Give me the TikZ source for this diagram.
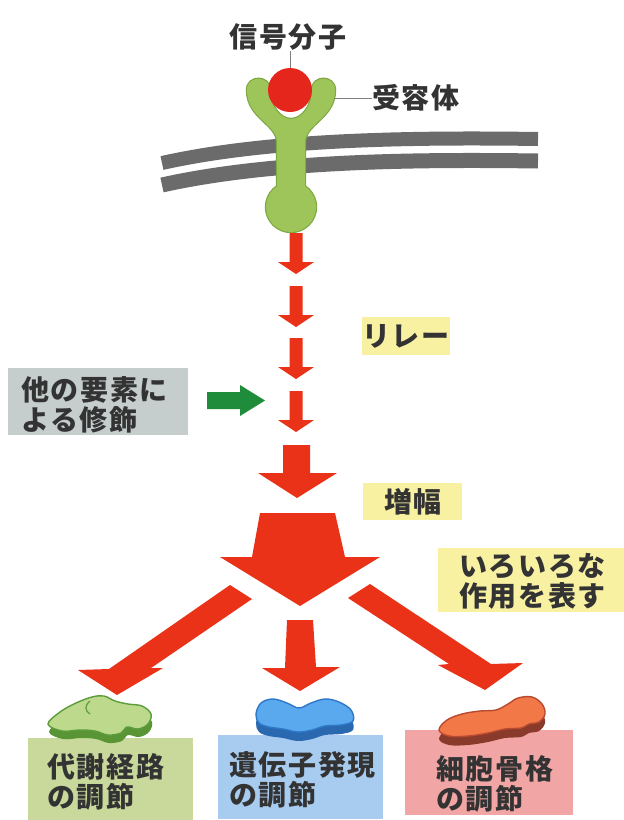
\documentclass[tikz,border=0pt]{standalone}
\usepackage{fontspec}
\newfontfamily\jp{Noto Sans CJK JP}[LetterSpace=6]
\definecolor{sigred}{HTML}{E5261C}
\definecolor{arrowred}{HTML}{EA3219}
\definecolor{recgreen}{HTML}{9DC55A}
\definecolor{recedge}{HTML}{7FA843}
\definecolor{memgray}{HTML}{6B6B6B}
\definecolor{modgreen}{HTML}{1E8C3A}
\definecolor{noteyellow}{HTML}{F8F1A2}
\definecolor{modgray}{HTML}{C6CDCD}
\definecolor{metbox}{HTML}{C9D99C}
\definecolor{genbox}{HTML}{A8CCF0}
\definecolor{cytbox}{HTML}{F2A5A5}
\definecolor{ink}{HTML}{333333}
\definecolor{leafgreen}{HTML}{BCD98C}
\definecolor{leafedge}{HTML}{5C9C3C}
\definecolor{leafside}{HTML}{5A9535}
\definecolor{dnablue}{HTML}{5AA8EE}
\definecolor{dnaedge}{HTML}{2E78C8}
\definecolor{dnaside}{HTML}{2A68B0}
\definecolor{fibreorange}{HTML}{F27848}
\definecolor{fibreedge}{HTML}{B84A30}
\definecolor{fibreside}{HTML}{8A3A2A}
\tikzset{
  lbl/.style={font={\jp\bfseries\fontsize{28}{30}\selectfont}, text=ink, inner sep=0pt, align=left},
  bgbox/.style={rectangle, inner sep=0pt, anchor=north west},
  redshape/.style={fill=arrowred},
  leader/.style={draw=gray, line width=1}
}
\def\rcptbody{(277,192) -- (277,142) .. controls (277,124) and (247,118) .. (247,90) .. controls (247,75) and (270,75) .. (270,90) .. controls (270,106) and (280,119) .. (291,119) .. controls (302,119) and (312,106) .. (312,90) .. controls (312,75) and (335,75) .. (335,90) .. controls (335,118) and (305,124) .. (305,142) -- (305,192) -- cycle}
\def\rcptbulb{(291,207) circle[radius=25]}
\begin{document}
\begin{tikzpicture}[x=1pt,y=-1pt]
\useasboundingbox (0,0) rectangle (624,820);
\fill[white] (0,0) rectangle (624,820);

% cell membrane: two grey layers
\draw[memgray, line width=14] (162,163) .. controls (265,140) and (400,137) .. (538,139);
\draw[memgray, line width=15] (162,185) .. controls (265,162) and (400,159) .. (538,161);

% receptor: outline first, then fill on top
\path[draw=recedge, line width=2.4] \rcptbody;
\path[draw=recedge, line width=2.4] \rcptbulb;
\fill[recgreen] \rcptbody;
\fill[recgreen] \rcptbulb;
\coordinate (rcptedge) at (334,98);

% signal molecule
\node[circle, fill=sigred, minimum size=44, inner sep=0pt] (ligand) at (290,90) {};
\node[lbl] (sigtext) at (288,37) {信号分子};
\draw[leader] (ligand.north) -- (ligand.north |- sigtext.south);
\node[lbl, anchor=west] (rectext) at (372,98) {受容体};
\draw[leader] (rcptedge) -- (rectext.west);

% relay arrows
\foreach \y in {233,286,338,391}
  \fill[redshape, shift={(296,\y)}] (-6.5,0) -- (6.5,0) -- (6.5,29) -- (18,29) -- (0,41) -- (-18,29) -- (-6.5,29) -- cycle;

% amplification
\fill[redshape] (283,445) -- (310,445) -- (310,473) -- (337,473) -- (297,498) -- (258,473) -- (283,473) -- cycle;
\fill[redshape] (260,513) -- (335,513) -- (345,557) -- (380,557) -- (300,606) -- (220,557) -- (252,557) -- cycle;

% three branches
\fill[redshape] (230,585) -- (252,599) -- (151,668) -- (163,668) -- (117,695) -- (78,670) -- (109,669) -- cycle;
\fill[redshape] (287,620) -- (313,620) -- (316,667) -- (340,667) -- (300,691) -- (262,668) -- (285,668) -- cycle;
\fill[redshape] (370,584) -- (348,598) -- (449,664) -- (438,665) -- (485,690) -- (523,663) -- (491,664) -- cycle;

% modulation by other factors
\node[bgbox, fill=modgray, minimum width=180, minimum height=67] (modbg) at (8,368) {};
\node[lbl, anchor=west] (modtext) at (21,405) {他の要素に\\よる修飾};
\fill[modgreen] (207,392) -- (240,392) -- (240,385) -- (265,400.5) -- (240,416) -- (240,409) -- (207,409) -- cycle;

% yellow notes
\node[bgbox, fill=noteyellow, minimum width=88, minimum height=38] (relaybg) at (362,317) {};
\node[lbl] (relaytext) at (406,336) {リレー};
\node[bgbox, fill=noteyellow, minimum width=99, minimum height=37] (ampbg) at (363,483) {};
\node[lbl] (amptext) at (413,502) {増幅};
\node[bgbox, fill=noteyellow, minimum width=186, minimum height=64] (varbg) at (438,548) {};
\node[lbl, anchor=west] (vartext) at (459,581) {いろいろな\\作用を表す};

% target boxes
\node[bgbox, fill=metbox, minimum width=165, minimum height=84] (metbg) at (28,738) {};
\node[bgbox, fill=genbox, minimum width=165, minimum height=84] (genbg) at (218,735) {};
\node[bgbox, fill=cytbox, minimum width=168, minimum height=85] (cytbg) at (405,730) {};

% metabolic enzyme blob
\def\leafpts{(48,724) (60,712) (76,703) (92,697) (104,696) (115,701) (128,704) (142,706) (151,714) (148,724) (138,729) (127,727) (121,733) (108,735) (95,731) (80,730) (62,731)}
\fill[leafside, shift={(1,8)}] plot[smooth cycle, tension=0.6] coordinates \leafpts;
\filldraw[fill=leafgreen, draw=leafedge, line width=1.4] plot[smooth cycle, tension=0.6] coordinates \leafpts;
\draw[leafedge, line width=1.2] (90,701) .. controls (84,706) and (85,711) .. (90,714);

% transcription factor blob
\def\dnapts{(256,714) (261,703) (273,699) (287,703) (299,708) (311,703) (325,699) (339,702) (351,710) (353,721) (341,725) (325,726) (312,730) (298,732) (283,729) (269,727) (259,723)}
\fill[dnaside, shift={(0,9)}] plot[smooth cycle, tension=0.6] coordinates \dnapts;
\filldraw[fill=dnablue, draw=dnaedge, line width=1.4] plot[smooth cycle, tension=0.6] coordinates \dnapts;

% cytoskeleton blob
\def\fibrepts{(439,730) (447,720) (462,714) (480,711) (496,710) (508,704) (518,698) (532,697) (542,704) (545,714) (539,722) (529,724) (521,728) (505,729) (488,733) (468,736) (449,736)}
\fill[fibreside, shift={(0,9)}] plot[smooth cycle, tension=0.6] coordinates \fibrepts;
\filldraw[fill=fibreorange, draw=fibreedge, line width=1.4] plot[smooth cycle, tension=0.6] coordinates \fibrepts;

% target labels
\node[lbl, anchor=west] (mettext) at (47,782) {代謝経路\\の調節};
\node[lbl, anchor=west] (gentext) at (229,780) {遺伝子発現\\の調節};
\node[lbl, anchor=west] (cyttext) at (436,784) {細胞骨格\\の調節};
\end{tikzpicture}
\end{document}
